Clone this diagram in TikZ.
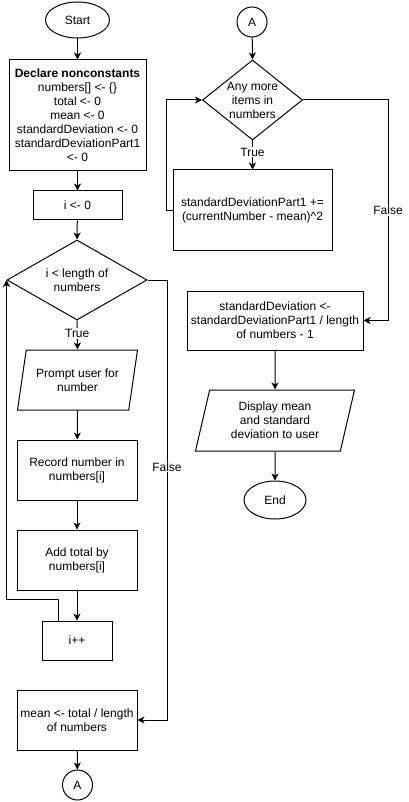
\documentclass[tikz,border=0pt]{standalone}
\usepackage{fontspec}
\setmainfont{Liberation Sans}
\usetikzlibrary{shapes.geometric,arrows.meta}
\begin{document}
\begin{tikzpicture}[x=1pt,y=-1pt,line width=1pt,
  every node/.style={font=\fontsize{12}{14}\selectfont},
  box/.style={draw,rectangle,align=center,inner sep=0pt},
  term/.style={draw,ellipse,inner sep=0pt},
  conn/.style={draw,circle,inner sep=0pt,minimum size=30pt},
  dec/.style={draw,diamond,inner sep=0pt},
  io/.style={draw,trapezium,trapezium left angle=69,trapezium right angle=111,trapezium stretches body,align=center,inner sep=0pt},
  txt/.style={align=center,inner sep=0pt},
  lbl/.style={fill=white,inner sep=1pt},
  arr/.style={-{Stealth[length=7pt,width=7pt,inset=2pt]}}]
\useasboundingbox (0,0) rectangle (409,802);
% left column
\node[term,minimum width=64pt,minimum height=36pt] (start) at (77.5,20) {Start};
\node[box,minimum width=137pt,minimum height=111pt] (decl) at (77.5,115.5)
  {\textbf{Declare nonconstants}\\numbers[] <- \{\}\\total <- 0\\mean <- 0\\standardDeviation <- 0\\standardDeviationPart1\\<- 0};
\node[box,minimum width=89pt,minimum height=29pt] (i0) at (77.5,205.5) {i <- 0};
\node[dec,minimum width=140pt,minimum height=80pt] (d1) at (77,280) {};
\node[txt] (d1t) at (77,280) {i < length of\\numbers};
\node[io,minimum width=120pt,minimum height=60pt] (prompt) at (77.5,380) {Prompt user for\\number};
\node[box,minimum width=120pt,minimum height=60pt] (rec) at (77,470) {Record number in\\numbers[i]};
\node[box,minimum width=120pt,minimum height=60pt] (add) at (77,560) {Add total by\\numbers[i]};
\node[box,minimum width=70pt,minimum height=39pt] (inc) at (77,640.5) {i++};
\node[box,minimum width=120pt,minimum height=60pt] (mean) at (77,720) {mean <- total / length\\of numbers};
\node[conn] (a1) at (77.5,785) {A};
% right column
\node[conn] (a2) at (252,22) {A};
\node[dec,minimum width=100pt,minimum height=80pt] (d2) at (252.5,100) {};
\node[txt] (d2t) at (252.5,100) {Any more\\items in\\numbers};
\node[box,minimum width=159pt,minimum height=80pt] (sdp) at (252.5,210) {standardDeviationPart1 +=\\(currentNumber - mean)\textasciicircum 2};
\node[box,minimum width=176pt,minimum height=59pt] (sd) at (275,320.5) {standardDeviation <-\\standardDeviationPart1 / length\\of numbers - 1};
\node[io,minimum width=159pt,minimum height=61pt] (disp) at (275,420.5) {Display mean\\and standard\\deviation to user};
\node[term,minimum width=62pt,minimum height=38pt] (end) at (275,500) {End};
% connectors left
\draw[arr] (start) -- (decl);
\draw[arr] (decl) -- (i0);
\draw[arr] (i0) -- (d1.north);
\draw[arr] (d1.south) -- node[lbl,pos=0.45] (t1) {True} (prompt.north);
\draw[arr] (prompt.south) -- (rec);
\draw[arr] (rec) -- (add);
\draw[arr] (add) -- (inc);
\draw[arr] ([xshift=-19pt]inc.north) -- ++(0,-21) -| (d1.west);
\draw[arr] (d1.east) -- (167,280) |- node[lbl,pos=0.2125] (f1) {False} (mean.east);
\draw[arr] (mean) -- (a1);
% connectors right
\draw[arr] (a2) -- (d2.north);
\draw[arr] (d2.south) -- node[lbl,pos=0.4] (t2) {True} (sdp.north);
\draw[arr] ([yshift=-1pt]sdp.west) -- ++(-6,0) |- (d2.west);
\draw[arr] (d2.east) -- (388,100) |- node[lbl,pos=0.25] (f2) {False} (sd.east);
\draw[arr] (sd) -- (disp.north);
\draw[arr] (disp.south) -- (end);
\end{tikzpicture}
\end{document}
